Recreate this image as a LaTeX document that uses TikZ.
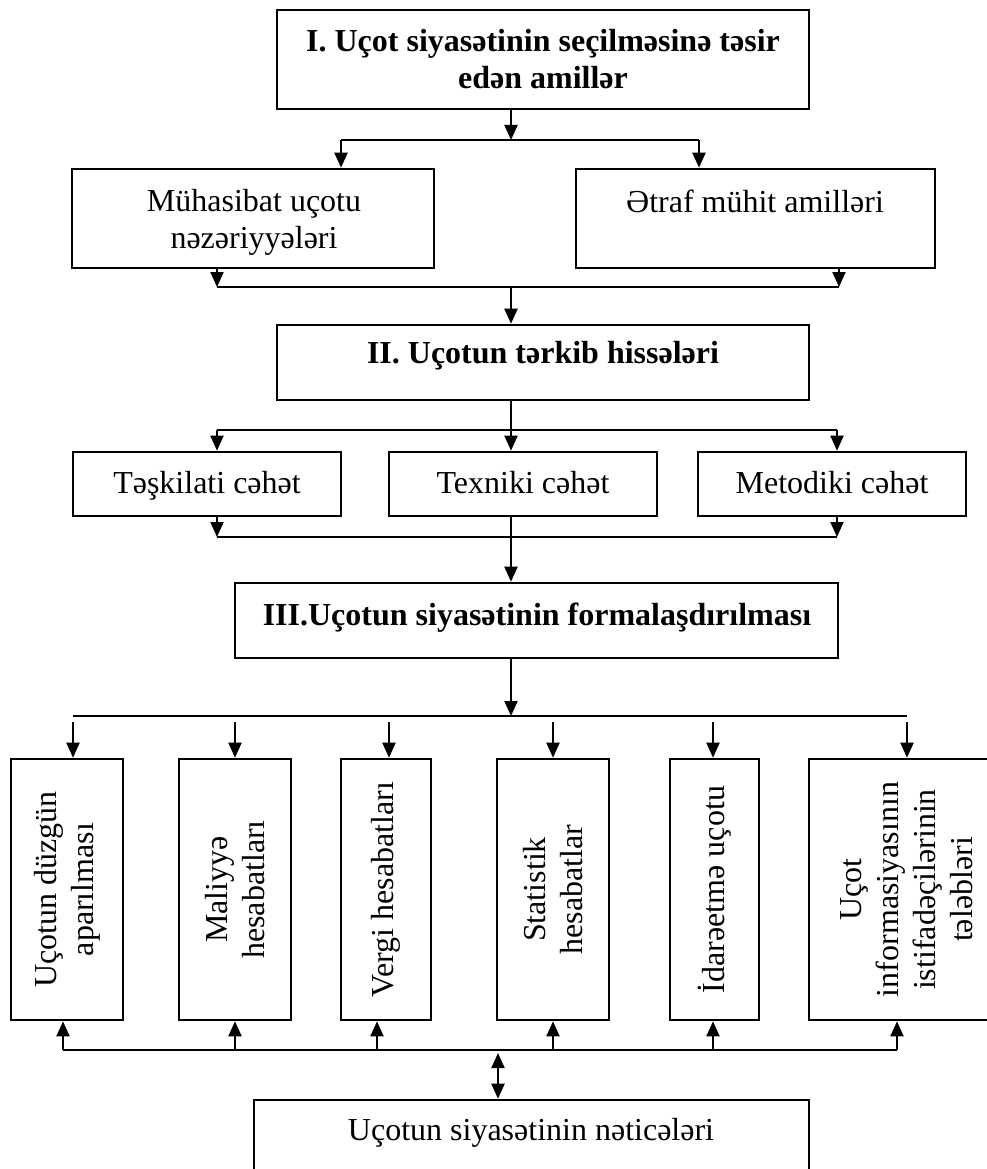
\documentclass[tikz,border=0pt]{standalone}
\usepackage{fontspec}
\setmainfont{Liberation Serif}
\usetikzlibrary{arrows.meta}

\tikzset{
  box/.style={draw, line width=2.6pt, inner sep=0pt, fill=white},
  txt/.style={font=\fontsize{32}{37}\selectfont, inner sep=0pt, align=center},
  btxt/.style={font=\fontsize{32}{37}\selectfont\bfseries, inner sep=0pt, align=center},
  vbox/.style={box, rotate=90, font=\fontsize{32}{37}\selectfont, align=center},
  conn/.style={line width=2pt},
  arr/.style={conn, -{Triangle[width=13pt,length=15pt]}},
  darr/.style={conn, {Triangle[width=13pt,length=15pt]}-{Triangle[width=13pt,length=15pt]}},
}

\begin{document}
\begin{tikzpicture}[x=1pt, y=-1pt]
\clip (0,0) rectangle (987,1169);

% ---- level I ----
\node[box, minimum width=532pt, minimum height=99pt] (I) at (543,59.5) {};
% multi-line texts are placed by the baseline of their last line
\node[btxt, anchor=base] (Itxt) at (543,89) {I. Uçot siyasətinin seçilməsinə təsir\\edən amillər};

\node[box, minimum width=362pt, minimum height=99pt] (A1) at (253,218.5) {};
\node[txt, anchor=base] (A1txt) at (254,248) {Mühasibat uçotu\\nəzəriyyələri};
\node[box, minimum width=359pt, minimum height=99pt] (A2) at (755.5,218.5) {};
\node[txt, anchor=base] (A2txt) at (755,212) {Ətraf mühit amilləri};

% ---- level II ----
\node[box, minimum width=532pt, minimum height=75pt] (II) at (543,362.5) {};
\node[btxt, anchor=base] (IItxt) at (543,363) {II. Uçotun tərkib hissələri};

\node[box, minimum width=268pt, minimum height=64pt] (B1) at (207,484) {};
\node[txt, anchor=base] (B1txt) at (207,493) {Təşkilati cəhət};
\node[box, minimum width=268pt, minimum height=64pt] (B2) at (523,484) {};
\node[txt, anchor=base] (B2txt) at (523,493) {Texniki cəhət};
\node[box, minimum width=268pt, minimum height=64pt] (B3) at (832,484) {};
\node[txt, anchor=base] (B3txt) at (832,493) {Metodiki cəhət};

% ---- level III ----
\node[box, minimum width=603pt, minimum height=75pt] (III) at (536.5,620.5) {};
\node[btxt, anchor=base] (IIItxt) at (537,625) {III.Uçotun siyasətinin formalaşdırılması};

% ---- vertical boxes (east = top, west = bottom) ----
\node[vbox, minimum width=261pt, minimum height=112pt] (C1) at (67,889.5) {Uçotun düzgün\\aparılması};
\node[vbox, minimum width=261pt, minimum height=112pt] (C2) at (235,889.5) {Maliyyə\\hesabatları};
\node[vbox, minimum width=261pt, minimum height=90pt] (C3) at (386,889.5) {Vergi hesabatları};
\node[vbox, minimum width=261pt, minimum height=112pt] (C4) at (553,889.5) {Statistik\\hesabatlar};
\node[vbox, minimum width=261pt, minimum height=89pt] (C5) at (714.5,889.5) {İdarəetmə uçotu};
\node[vbox, minimum width=261pt, minimum height=196pt] (C6) at (907,889.5) {Uçot\\informasiyasının\\istifadəçilərinin\\tələbləri};

% ---- results ----
\node[box, minimum width=555pt, minimum height=120pt] (R) at (531.5,1160) {};
\node[txt, anchor=base] (Rtxt) at (531,1140) {Uçotun siyasətinin nəticələri};

% ---- bus points ----
\coordinate (s1) at (511,140);
\coordinate (s1l) at (341,140);
\coordinate (s1r) at (699,140);
\coordinate (s2) at (511,287);
\coordinate (s2l) at (217,287);
\coordinate (s2r) at (839,287);
\coordinate (s3) at (511,430);
\coordinate (s3l) at (217,430);
\coordinate (s3r) at (837,430);
\coordinate (s4) at (511,537);
\coordinate (s4l) at (217,537);
\coordinate (s4r) at (837,537);
\coordinate (s5) at (511,716);
\coordinate (s5l) at (73,716);
\coordinate (s5r) at (907,716);
\coordinate (s6l) at (63,1050);
\coordinate (s6r) at (897,1050);
\coordinate (d1) at (498,1053);

% ---- connectors ----
\draw[arr] (I.south -| s1) -- (s1);
\draw[conn] (s1l) -- (s1r);
\draw[arr] (s1l) -- (s1l |- A1.north);
\draw[arr] (s1r) -- (s1r |- A2.north);

\draw[arr] (s2l |- A1.south) -- (s2l);
\draw[arr] (s2r |- A2.south) -- (s2r);
\draw[conn] (s2l) -- (s2r);
\draw[arr] (s2) -- (s2 |- II.north);

\draw[conn] (II.south -| s3) -- (s3);
\draw[conn] (s3l) -- (s3r);
\draw[arr] (s3l) -- (s3l |- B1.north);
\draw[arr] (s3) -- (s3 |- B2.north);
\draw[arr] (s3r) -- (s3r |- B3.north);

\draw[arr] (s4l |- B1.south) -- (s4l);
\draw[arr] (s4r |- B3.south) -- (s4r);
\draw[conn] (s4l) -- (s4r);
\draw[arr] (B2.south -| s4) -- (s4 |- III.north);

\draw[arr] (III.south -| s5) -- (s5);
\draw[conn] (s5l) -- (s5r);
\foreach \c/\x in {C1/73, C2/235, C3/389, C4/553, C5/713, C6/907}
  \draw[arr] (\x,722) -- (\x,722 |- \c.east);

\draw[conn] (s6l) -- (s6r);
\foreach \c/\x in {C1/63, C2/235, C3/377, C4/553, C5/713, C6/897}
  \draw[arr] (\x,1050) -- (\x,1050 |- \c.west);
\draw[darr] (d1) -- (d1 |- R.north);
\end{tikzpicture}
\end{document}
